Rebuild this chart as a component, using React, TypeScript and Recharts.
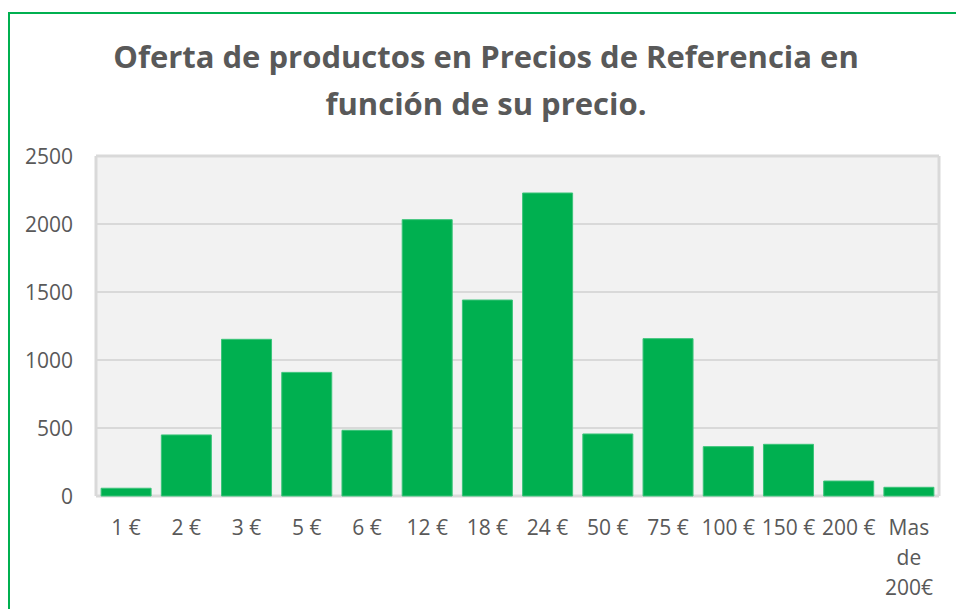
import React from 'react';
import { BarChart, Bar, XAxis, YAxis, CartesianGrid } from 'recharts';

const categories = ['1 €', '2 €', '3 €', '5 €', '6 €', '12 €', '18 €', '24 €', '50 €', '75 €', '100 €', '150 €', '200 €', 'Mas de 200€'];
const productCounts = [57, 449, 1152, 909, 483, 2032, 1441, 2228, 456, 1157, 363, 380, 110, 64];
const yTicks = [0, 500, 1000, 1500, 2000, 2500];

const TEXT = '#595959';
const GREEN = '#00b050';
const FONT = '"Open Sans", sans-serif';

const data = categories.map((name, i) => ({ name, value: productCounts[i] }));

const XTick = (props: any) => {
    const { x, y, payload } = props;
    const label: string = payload.value;
    // long labels wrap word by word, like the spreadsheet did
    const lines = label.length > 6 ? label.split(' ') : [label];
    return (
        <g>
            {lines.map((line, i) => (
                <text key={i} x={x} y={y + i * 30} textAnchor="middle" dominantBaseline="central"
                    fill={TEXT} fontSize={21} fontFamily={FONT}>
                    {line}
                </text>
            ))}
        </g>
    );
};

const YTick = (props: any) => {
    const { x, y, payload } = props;
    return (
        <text x={x} y={y} textAnchor="end" dominantBaseline="central" fill={TEXT} fontSize={21} fontFamily={FONT}>
            {payload.value}
        </text>
    );
};

export default function App() {
    return (
        <div style={{ position: 'fixed', left: 0, top: 0, width: 956, height: 609, overflow: 'hidden', background: '#fff' }}>
            <div style={{ position: 'absolute', left: 8, top: 12, width: 956, height: 640, border: '2px solid #00b050', boxSizing: 'border-box' }} />
            <div style={{
                position: 'absolute', left: 8, top: 33, width: 956, textAlign: 'center',
                fontFamily: FONT, fontWeight: 700, fontSize: 31, lineHeight: '47px', color: TEXT,
            }}>
                Oferta de productos en Precios de Referencia en<br />función de su precio.
            </div>
            <div style={{ position: 'absolute', left: 0, top: 0 }}>
                <BarChart width={956} height={609} data={data}
                    margin={{ top: 156, right: 17, bottom: 0, left: 0 }} barCategoryGap="8.5%">
                    <CartesianGrid vertical={false} fill="#f2f2f2" stroke="#d9d9d9" strokeWidth={2} />
                    <CartesianGrid fill="none" stroke="#d9d9d9" strokeWidth={3}
                        horizontalCoordinatesGenerator={({ offset }: any) => [offset.top, offset.top + offset.height]}
                        verticalCoordinatesGenerator={({ offset }: any) => [offset.left, offset.left + offset.width]} />
                    <XAxis dataKey="name" height={113} interval={0} tickSize={0} tickMargin={31}
                        axisLine={false} tickLine={false} tick={<XTick />} />
                    <YAxis width={96} domain={[0, 2500]} ticks={yTicks} tickSize={0} tickMargin={23}
                        axisLine={false} tickLine={false} tick={<YTick />} />
                    <Bar dataKey="value" fill={GREEN} stroke="#3cc47a" strokeWidth={1} isAnimationActive={false} />
                </BarChart>
            </div>
        </div>
    );
}
